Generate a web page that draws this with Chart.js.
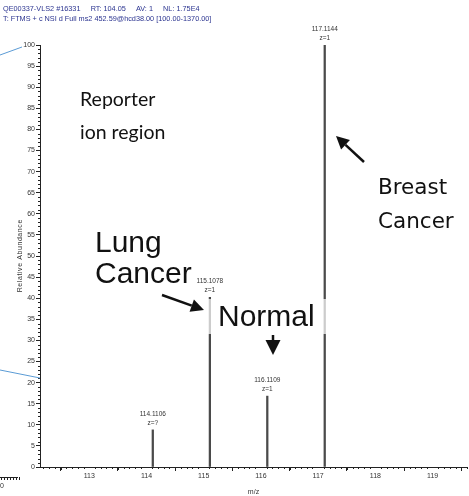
<!DOCTYPE html>
<html>
<head>
<meta charset="utf-8">
<script src="https://cdn.jsdelivr.net/npm/chart.js@4.4.1/dist/chart.umd.min.js"></script>
<style>
  html, body { margin: 0; padding: 0; background: #ffffff; }
  #wrap { position: relative; width: 469px; height: 496px; }
  canvas { display: block; }
</style>
</head>
<body>
<div id="wrap"><canvas id="spec" width="469" height="496"></canvas></div>
<script>
// Reporter-ion peaks of the HCD MS2 scan
const peakMz = [114.1106, 115.1078, 116.1109, 117.1144];
const peakAbundance = [8.8, 40.2, 16.8, 100];
const peakCharge = ['z=?', 'z=1', 'z=1', 'z=1'];

// Axis ranges and tick labels
const mzRange = [112.14, 119.6];
const mzTickLabels = [113, 114, 115, 116, 117, 118, 119];
const abundanceTicks = [0, 5, 10, 15, 20, 25, 30, 35, 40, 45, 50, 55, 60, 65, 70, 75, 80, 85, 90, 95, 100];

// Scan header text
const headerLines = [
  'QE00337-VLS2 #16331     RT: 104.05     AV: 1     NL: 1.75E4',
  'T: FTMS + c NSI d Full ms2 452.59@hcd38.00 [100.00-1370.00]'
];

const AXIS_FONT = '"Liberation Sans", Arial, sans-serif';

// Minor tick marks along both axes
const minorTicks = {
  id: 'minorTicks',
  afterDraw(chart) {
    const { ctx, scales: { x, y }, chartArea } = chart;
    ctx.save();
    ctx.strokeStyle = '#222';
    ctx.lineWidth = 1;
    ctx.beginPath();
    const start = Math.ceil(x.min * 10);
    const end = Math.floor(x.max * 10);
    for (let i = start; i <= end; i++) {
      if (i % 10 === 0) continue;
      const px = Math.round(x.getPixelForValue(i / 10)) + 0.5;
      const len = (i % 5 === 0) ? 3 : 2;
      ctx.moveTo(px, chartArea.bottom);
      ctx.lineTo(px, chartArea.bottom + len);
    }
    for (let v = 0; v <= 100; v++) {
      if (v % 5 === 0) continue;
      const py = Math.round(y.getPixelForValue(v)) + 0.5;
      ctx.moveTo(chartArea.left, py);
      ctx.lineTo(chartArea.left - 2, py);
    }
    ctx.stroke();
    ctx.restore();
  }
};

// Mass and charge labels above each peak
const peakLabels = {
  id: 'peakLabels',
  afterDatasetsDraw(chart) {
    const { ctx } = chart;
    const meta = chart.getDatasetMeta(0);
    ctx.save();
    ctx.fillStyle = '#333';
    ctx.font = '6.5px ' + AXIS_FONT;
    ctx.textAlign = 'center';
    ctx.textBaseline = 'middle';
    meta.data.forEach((bar, i) => {
      ctx.fillText(peakMz[i].toFixed(4), bar.x, bar.y - 16);
      ctx.fillText(peakCharge[i], bar.x, bar.y - 7);
    });
    ctx.restore();
  }
};

// Header, callout text and arrows
const callouts = {
  id: 'callouts',
  afterDraw(chart) {
    const { ctx } = chart;
    ctx.save();

    // scan header
    ctx.fillStyle = '#2b3490';
    ctx.font = '7.3px ' + AXIS_FONT;
    ctx.textBaseline = 'middle';
    ctx.textAlign = 'left';
    ctx.fillText(headerLines[0], 3, 9);
    ctx.fillText(headerLines[1], 3, 19);

    // fragments of the neighbouring panel
    ctx.strokeStyle = '#5b9bd5';
    ctx.lineWidth = 1;
    ctx.beginPath();
    ctx.moveTo(0, 55); ctx.lineTo(22, 47);
    ctx.moveTo(0, 370); ctx.lineTo(40, 378);
    ctx.stroke();
    ctx.strokeStyle = '#222';
    ctx.beginPath();
    ctx.moveTo(0, 477.5); ctx.lineTo(18, 477.5);
    for (let i = 0; i <= 6; i++) {
      ctx.moveTo(1.5 + i * 3, 477); ctx.lineTo(1.5 + i * 3, 480);
    }
    ctx.stroke();
    ctx.fillStyle = '#333';
    ctx.font = '7px ' + AXIS_FONT;
    ctx.fillText('0', 0, 486);

    // translucent box behind "Normal"
    ctx.fillStyle = 'rgba(255,255,255,0.72)';
    ctx.fillRect(208, 299, 120, 35);

    ctx.fillStyle = '#111';
    ctx.textBaseline = 'middle';
    ctx.textAlign = 'left';
    ctx.font = '19.5px Lato, "Open Sans", sans-serif';
    ctx.fillText('Reporter', 80, 100);
    ctx.fillText('ion region', 80, 133);

    ctx.font = '30px ' + AXIS_FONT;
    ctx.fillText('Lung', 95, 244);
    ctx.fillText('Cancer', 95, 275);
    ctx.fillText('Normal', 218, 318);

    ctx.font = '21.5px "DejaVu Sans", sans-serif';
    ctx.fillText('Breast', 378, 188);
    ctx.fillText('Cancer', 378, 222);

    // arrows
    const arrow = (x1, y1, x2, y2, head) => {
      const a = Math.atan2(y2 - y1, x2 - x1);
      const bx = x2 - head * Math.cos(a), by = y2 - head * Math.sin(a);
      ctx.strokeStyle = '#111';
      ctx.lineWidth = 2.5;
      ctx.beginPath();
      ctx.moveTo(x1, y1); ctx.lineTo(bx, by);
      ctx.stroke();
      ctx.fillStyle = '#111';
      ctx.beginPath();
      ctx.moveTo(x2, y2);
      ctx.lineTo(bx + head * 0.5 * Math.sin(a), by - head * 0.5 * Math.cos(a));
      ctx.lineTo(bx - head * 0.5 * Math.sin(a), by + head * 0.5 * Math.cos(a));
      ctx.closePath();
      ctx.fill();
    };
    arrow(162, 295, 204, 310, 13);
    arrow(364, 162, 336, 136, 13);
    arrow(273, 335, 273, 355, 15);

    ctx.restore();
  }
};

new Chart(document.getElementById('spec'), {
  type: 'bar',
  data: {
    datasets: [{
      data: peakMz.map((mz, i) => ({ x: mz, y: peakAbundance[i] })),
      backgroundColor: '#4a4a4a',
      borderWidth: 0,
      barThickness: 1.6
    }]
  },
  options: {
    responsive: false,
    devicePixelRatio: 1,
    animation: false,
    events: [],
    layout: { padding: { top: 45, right: 2, left: 0, bottom: 0 } },
    plugins: { legend: { display: false }, tooltip: { enabled: false } },
    scales: {
      x: {
        type: 'linear',
        min: mzRange[0],
        max: mzRange[1],
        offset: false,
        afterFit(s) { s.height = 29; },
        afterBuildTicks(s) { s.ticks = mzTickLabels.map(v => ({ value: v })); },
        ticks: {
          font: { family: AXIS_FONT, size: 7 },
          color: '#333',
          padding: 1,
          maxRotation: 0,
          autoSkip: false,
          callback: v => String(v)
        },
        grid: { display: true, drawOnChartArea: false, tickLength: 4, color: '#222', tickColor: '#222' },
        border: { display: true, color: '#222', width: 1 },
        title: { display: true, text: 'm/z', font: { family: AXIS_FONT, size: 7 }, color: '#333', padding: { top: 0, bottom: 0 } }
      },
      y: {
        min: 0,
        max: 100,
        afterFit(s) { s.width = 40; },
        afterBuildTicks(s) { s.ticks = abundanceTicks.map(v => ({ value: v })); },
        ticks: {
          font: { family: AXIS_FONT, size: 7 },
          color: '#333',
          padding: 1,
          autoSkip: false
        },
        grid: { display: true, drawOnChartArea: false, tickLength: 4, color: '#222', tickColor: '#222' },
        border: { display: true, color: '#222', width: 1 },
        title: {
          display: true,
          text: 'R\u200Ae\u200Al\u200Aa\u200At\u200Ai\u200Av\u200Ae\u200A \u200AA\u200Ab\u200Au\u200An\u200Ad\u200Aa\u200An\u200Ac\u200Ae',
          font: { family: AXIS_FONT, size: 7 },
          color: '#333',
          padding: { top: 16, bottom: 0 }
        }
      }
    }
  },
  plugins: [minorTicks, peakLabels, callouts]
});
</script>
</body>
</html>
